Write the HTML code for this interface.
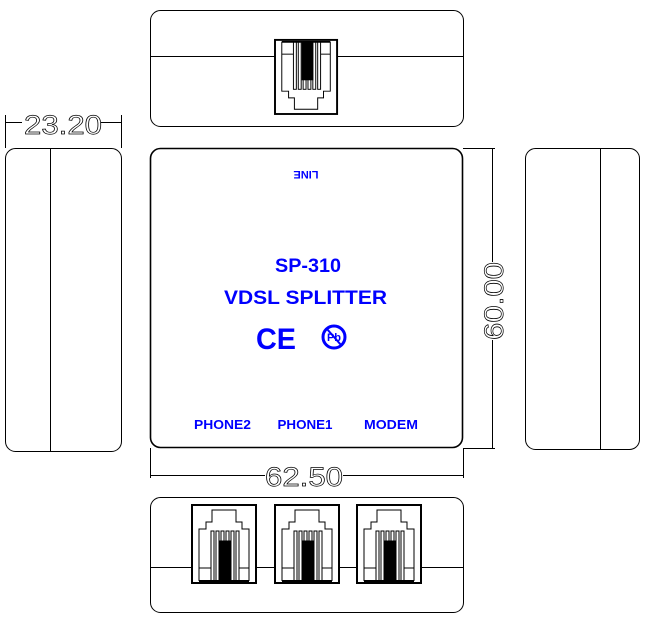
<!DOCTYPE html>
<html><head><meta charset="utf-8"><style>
html,body{margin:0;padding:0;background:#fff;}
svg{display:block;}
.b{font-family:"Liberation Sans",sans-serif;font-weight:bold;fill:#0000ff;}
.d{font-family:"Liberation Sans",sans-serif;fill:none;stroke:#000;stroke-width:0.7;font-size:27px;}
</style></head><body>
<svg width="653" height="620" viewBox="0 0 653 620" xmlns="http://www.w3.org/2000/svg">
<defs>
<g id="jack" fill="none" stroke="#000" stroke-width="1">
<rect x="0" y="0" width="64" height="78" stroke-width="2"/>
<polyline points="7,76 7,24 14,24 14,17 20,17 20,5 44,5 44,17 50,17 50,24 57,24 57,76"/>
<rect x="19" y="26" width="3" height="50"/>
<rect x="24" y="26" width="3" height="50"/>
<rect x="29" y="26" width="3" height="50"/>
<rect x="34" y="26" width="3" height="50"/>
<rect x="39" y="26" width="3" height="50"/>
<rect x="44" y="26" width="3" height="50"/>
<rect x="28" y="36" width="11" height="40" fill="#000"/>
<line x1="7" y1="63" x2="19" y2="63"/>
<line x1="47" y1="63" x2="57" y2="63"/>
<line x1="7" y1="76" x2="57" y2="76" stroke-width="2"/>
</g>
</defs>
<g fill="none" stroke="#000" stroke-width="1">
<rect x="150.5" y="10.5" width="313" height="116" rx="10"/>
<line x1="150" y1="56.5" x2="464" y2="56.5"/>
<rect x="5.5" y="148.5" width="116" height="303" rx="10"/>
<line x1="50.5" y1="148" x2="50.5" y2="452"/>
<line x1="5.5" y1="115" x2="5.5" y2="148"/>
<line x1="121.5" y1="115" x2="121.5" y2="148"/>
<line x1="5.5" y1="122.5" x2="22" y2="122.5"/>
<line x1="101" y1="122.5" x2="121.5" y2="122.5"/>
<rect x="150.5" y="148.5" width="312" height="299" rx="10" stroke-width="1.6"/>
<line x1="463" y1="148.5" x2="495" y2="148.5"/>
<line x1="463" y1="448.5" x2="495" y2="448.5"/>
<line x1="492.5" y1="148.5" x2="492.5" y2="262"/>
<line x1="492.5" y1="340" x2="492.5" y2="448.5"/>
<line x1="150.5" y1="448" x2="150.5" y2="478"/>
<line x1="463.5" y1="448" x2="463.5" y2="478"/>
<line x1="150.5" y1="475.5" x2="265" y2="475.5"/>
<line x1="343" y1="475.5" x2="463.5" y2="475.5"/>
<rect x="525.5" y="148.5" width="114" height="301" rx="10"/>
<line x1="600.5" y1="148" x2="600.5" y2="450"/>
<rect x="150.5" y="497.5" width="313" height="115" rx="10"/>
<line x1="150" y1="567.5" x2="464" y2="567.5"/>
</g>
<rect x="275" y="40" width="62" height="74" fill="#fff"/>
<g transform="translate(275,114) scale(0.97,-0.95)"><use href="#jack"/></g>
<rect x="192" y="505" width="64" height="78" fill="#fff"/>
<rect x="275" y="505" width="64" height="78" fill="#fff"/>
<rect x="357" y="505" width="64" height="78" fill="#fff"/>
<use href="#jack" x="192" y="505"/>
<use href="#jack" x="275" y="505"/>
<use href="#jack" x="357" y="505"/>
<text class="d" x="63" y="134" text-anchor="middle" textLength="78" lengthAdjust="spacingAndGlyphs">23.20</text>
<text class="d" x="304" y="486" text-anchor="middle" textLength="78" lengthAdjust="spacingAndGlyphs">62.50</text>
<text class="d" transform="translate(503,301) rotate(-90)" text-anchor="middle" textLength="78" lengthAdjust="spacingAndGlyphs">60.00</text>
<text class="b" font-size="11" transform="translate(306,171) rotate(180)" text-anchor="middle">LINE</text>
<text class="b" font-size="19" x="308" y="272" text-anchor="middle" textLength="66" lengthAdjust="spacingAndGlyphs">SP-310</text>
<text class="b" font-size="19" x="305.5" y="304" text-anchor="middle" textLength="163" lengthAdjust="spacingAndGlyphs">VDSL SPLITTER</text>
<text class="b" font-size="30" x="276" y="349" text-anchor="middle" textLength="40" lengthAdjust="spacingAndGlyphs">CE</text>
<circle cx="334" cy="337" r="11" fill="none" stroke="#0000ff" stroke-width="3"/>
<line x1="327" y1="329" x2="341" y2="345" stroke="#0000ff" stroke-width="2"/>
<text class="b" font-size="11" x="334" y="341" text-anchor="middle">Pb</text>
<text class="b" font-size="13" x="222.5" y="429" text-anchor="middle" textLength="57" lengthAdjust="spacingAndGlyphs">PHONE2</text>
<text class="b" font-size="13" x="305" y="429" text-anchor="middle" textLength="55" lengthAdjust="spacingAndGlyphs">PHONE1</text>
<text class="b" font-size="13" x="391" y="429" text-anchor="middle" textLength="54" lengthAdjust="spacingAndGlyphs">MODEM</text>
</svg>
</body></html>
